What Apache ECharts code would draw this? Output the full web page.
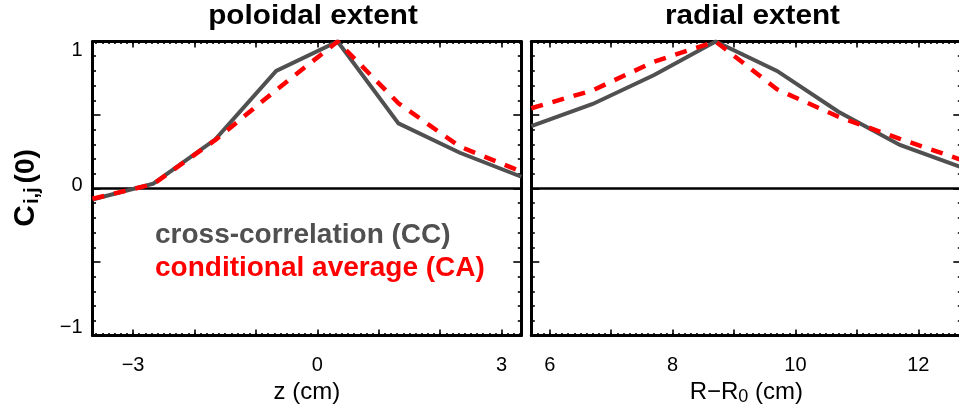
<!DOCTYPE html>
<html>
<head>
<meta charset="utf-8">
<script src="https://cdn.jsdelivr.net/npm/echarts@6/dist/echarts.min.js"></script>
<style>
  html, body { margin: 0; padding: 0; background: #fff; }
  #chart { width: 959px; height: 405px; }
</style>
</head>
<body>
<div id="chart"></div>
<script>
// Poloidal probe array: positions z (cm) and zero-lag correlation values
const zPos = [-3.66, -2.67, -1.66, -0.67, 0.33, 1.32, 2.32, 3.32];
const zCC  = [-0.075, 0.033, 0.335, 0.80, 1.0, 0.443, 0.243, 0.08];
const zCA  = [-0.07, 0.03, 0.33, 0.67, 1.0, 0.58, 0.285, 0.115];

// Radial probe array: positions R-R0 (cm)
const rPos = [5.7, 6.7, 7.7, 8.7, 9.7, 10.7, 11.7, 12.7];
const rCC  = [0.425, 0.575, 0.772, 1.0, 0.80, 0.522, 0.296, 0.145];
const rCA  = [0.546, 0.668, 0.863, 1.0, 0.675, 0.488, 0.338, 0.195];

// Axis extents and ticks
const zRange = [-3.66, 3.32];
const rRange = [5.7, 12.7];
const zMajorTicks = [-3, -2, -1, 0, 1, 2, 3];
const zTickLabels = [-3, 0, 3];
const rMajorTicks = [6, 7, 8, 9, 10, 11, 12];
const rTickLabels = [6, 8, 10, 12];
const yTickLabels = [-1, 0, 1];
const minorStep = 0.1;

const GRAY = '#505050';
const RED = '#ff0000';
const FONT = 'Liberation Sans, Arial, Helvetica, sans-serif';

function minorTicks(range) {
  const out = [];
  const start = Math.ceil(range[0] / minorStep - 1e-9);
  const end = Math.floor(range[1] / minorStep + 1e-9);
  for (let k = start; k <= end; k++) out.push(Math.round(k * minorStep * 1000) / 1000);
  return out;
}

const minus = v => String(v).replace('-', '\u2212');

function xAxesFor(gridIndex, range, majors, labels, name) {
  const base = { gridIndex, type: 'value', min: range[0], max: range[1], splitLine: { show: false } };
  const line = { show: true, onZero: false, lineStyle: { color: '#000', width: 3 } };
  const major = { show: true, inside: true, length: 6, lineStyle: { color: '#000', width: 1.6 }, customValues: majors };
  const minor = { show: true, inside: true, length: 2.5, lineStyle: { color: '#000', width: 1.6 }, customValues: minorTicks(range) };
  return [
    Object.assign({}, base, {
      position: 'bottom', axisLine: line, axisTick: major,
      axisLabel: { show: true, customValues: labels, formatter: minus, fontFamily: FONT, fontSize: 20, color: '#000', margin: 20 },
      name: name, nameLocation: 'middle', nameGap: 40,
      nameTextStyle: {
        fontFamily: FONT, fontSize: 24, color: '#000',
        rich: { s: { fontFamily: FONT, fontSize: 18, color: '#000', padding: [10, 0, 0, 0] } }
      }
    }),
    Object.assign({}, base, { position: 'bottom', axisLine: { show: false, onZero: false }, axisTick: minor, axisLabel: { show: false } }),
    Object.assign({}, base, { position: 'top', axisLine: line, axisTick: major, axisLabel: { show: false } }),
    Object.assign({}, base, { position: 'top', axisLine: { show: false, onZero: false }, axisTick: minor, axisLabel: { show: false } })
  ];
}

function yAxesFor(gridIndex, withLabels) {
  const base = {
    gridIndex, type: 'value', min: -1, max: 1, interval: 0.5, splitLine: { show: false },
    axisLine: { show: true, onZero: false, lineStyle: { color: '#000', width: 3 } },
    axisTick: { show: true, inside: true, length: 8, lineStyle: { color: '#000', width: 1.6 } },
    minorTick: { show: true, splitNumber: 5, length: 3.5, lineStyle: { color: '#000', width: 1.6 } }
  };
  return [
    Object.assign({}, base, {
      position: 'left',
      axisLabel: withLabels ? {
        show: true, customValues: yTickLabels, margin: 10, color: '#000', fontFamily: FONT, fontSize: 20,
        formatter: v => v === 1 ? '{t|1}' : (v === -1 ? '{b|\u22121}' : '{m|0}'),
        rich: {
          t: { fontFamily: FONT, fontSize: 20, color: '#000', padding: [18, 0, 0, 0] },
          m: { fontFamily: FONT, fontSize: 20, color: '#000', padding: [0, 0, 6, 0] },
          b: { fontFamily: FONT, fontSize: 20, color: '#000', padding: [0, 0, 16, 0] }
        }
      } : { show: false }
    }),
    Object.assign({}, base, { position: 'right', axisLabel: { show: false } })
  ];
}

const pairs = (xs, ys) => xs.map((x, i) => [x, ys[i]]);

function seriesFor(gridIndex, xs, cc, ca) {
  const xi = gridIndex * 4, yi = gridIndex * 2;
  return [
    {
      name: 'cross-correlation (CC)', type: 'line', xAxisIndex: xi, yAxisIndex: yi,
      data: pairs(xs, cc), symbol: 'none', z: 3,
      lineStyle: { color: GRAY, width: 4, cap: 'butt', join: 'miter' },
      markLine: {
        silent: true, symbol: 'none', label: { show: false }, z: 2,
        lineStyle: { color: '#000', width: 2.5, type: 'solid' },
        data: [{ yAxis: 0 }]
      }
    },
    {
      name: 'conditional average (CA)', type: 'line', xAxisIndex: xi, yAxisIndex: yi,
      data: pairs(xs, ca), symbol: 'none', z: 4,
      lineStyle: { color: RED, width: 4.5, type: [12, 10], cap: 'butt' }
    }
  ];
}

const chart = echarts.init(document.getElementById('chart'), null, { renderer: 'canvas' });
chart.setOption({
  animation: false,
  backgroundColor: '#fff',
  grid: [
    { left: 92.5, top: 41.5, width: 428.8, height: 294, containLabel: false, outerBoundsMode: 'none' },
    { left: 531.3, top: 41.5, width: 430, height: 294, containLabel: false, outerBoundsMode: 'none' }
  ],
  xAxis: [].concat(
    xAxesFor(0, zRange, zMajorTicks, zTickLabels, 'z (cm)'),
    xAxesFor(1, rRange, rMajorTicks, rTickLabels, 'R\u2212R{s|0} (cm)')
  ),
  yAxis: [].concat(yAxesFor(0, true), yAxesFor(1, false)),
  series: [].concat(seriesFor(0, zPos, zCC, zCA), seriesFor(1, rPos, rCC, rCA)),
  graphic: [
    {
      type: 'text', x: 313, y: 17, scaleX: 1.1, silent: true,
      style: { text: 'poloidal extent', fontFamily: FONT, fontSize: 27, fontWeight: 'bold', fill: '#000', align: 'center', verticalAlign: 'middle' }
    },
    {
      type: 'text', x: 752.5, y: 17, scaleX: 1.1, silent: true,
      style: { text: 'radial extent', fontFamily: FONT, fontSize: 27, fontWeight: 'bold', fill: '#000', align: 'center', verticalAlign: 'middle' }
    },
    {
      type: 'text', x: 155, y: 235.5, silent: true,
      style: { text: 'cross-correlation (CC)', fontFamily: FONT, fontSize: 28, fontWeight: 'bold', fill: GRAY, align: 'left', verticalAlign: 'middle' }
    },
    {
      type: 'text', x: 155, y: 268.5, silent: true,
      style: { text: 'conditional average (CA)', fontFamily: FONT, fontSize: 28, fontWeight: 'bold', fill: RED, align: 'left', verticalAlign: 'middle' }
    },
    {
      type: 'text', x: 26, y: 188, rotation: Math.PI / 2, silent: true,
      style: {
        text: '{c|C}{s|i,j}{p|(0)}', align: 'center', verticalAlign: 'middle',
        rich: {
          c: { fontFamily: FONT, fontSize: 30, fontWeight: 'bold', fill: '#000' },
          s: { fontFamily: FONT, fontSize: 20, fontWeight: 'bold', fill: '#000', padding: [12, 1, 0, 1] },
          p: { fontFamily: FONT, fontSize: 28, fontWeight: 'bold', fill: '#000', padding: [0, 0, 0, 3] }
        }
      }
    }
  ]
});
</script>
</body>
</html>
